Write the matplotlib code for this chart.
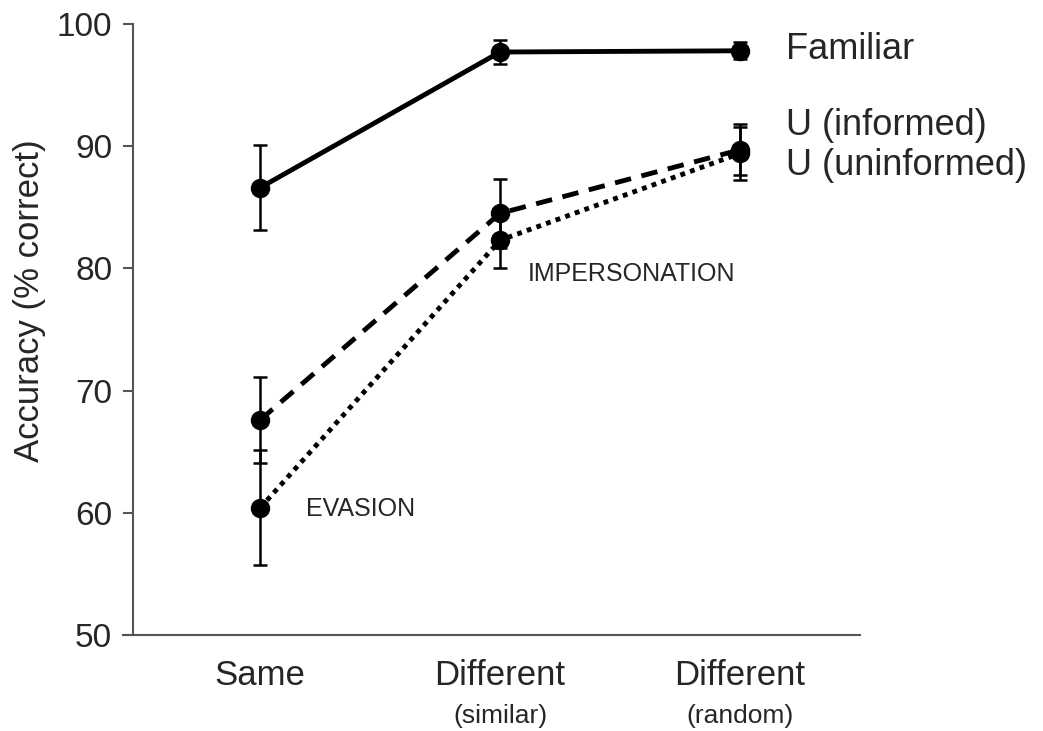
import numpy as np
import matplotlib
matplotlib.use("Agg")
import matplotlib.pyplot as plt

plt.rcParams["font.family"] = ["Liberation Sans", "DejaVu Sans"]

# ── Data ────────────────────────────────────────────────────────────────────
conditions = ["Same", "Different", "Different"]
subtitles  = ["", "(similar)", "(random)"]

familiar      = [86.6, 97.7, 97.8]
familiar_err  = [3.5, 1.0, 0.7]
informed      = [67.6, 84.5, 89.7]
informed_err  = [3.5, 2.8, 2.1]
uninformed    = [60.4, 82.3, 89.4]
uninformed_err = [4.7, 2.3, 2.2]

series_names = ["Familiar", "U (informed)", "U (uninformed)"]
label_y      = [97.9, 91.7, 88.4]

TXT = "#262626"
AX  = "#555555"

x = np.arange(len(conditions))

fig = plt.figure(figsize=(10.43, 7.31), dpi=100)
ax = fig.add_axes([0.1275, 0.1313, 0.697, 0.836])

common = dict(color="black", marker="o", markersize=13, lw=3.5,
              elinewidth=1.8, capsize=5, capthick=1.8, ecolor="black")

ax.errorbar(x, uninformed, yerr=uninformed_err, linestyle=(0, (1, 1.1)), **common)
ax.errorbar(x, informed, yerr=informed_err, linestyle=(0, (3.4, 2.2)), **common)
ax.errorbar(x, familiar, yerr=familiar_err, linestyle="-", **common)

for name, yy in zip(series_names, label_y):
    ax.text(2.19, yy, name, fontsize=26, color=TXT, ha="left", va="center")

ax.text(0.19, 60.3, "EVASION", fontsize=18, color=TXT, ha="left", va="center")
ax.text(1.115, 79.5, "IMPERSONATION", fontsize=18, color=TXT, ha="left", va="center")

ax.set_xlim(-0.53, 2.5)
ax.set_ylim(50, 100)
ax.set_yticks([50, 60, 70, 80, 90, 100])
ax.set_xticks(x)
ax.set_xticklabels(conditions, fontsize=25, color=TXT)
ax.tick_params(axis="x", length=0, pad=17)
ax.tick_params(axis="y", length=7, width=1.5, color=AX, pad=8,
               labelsize=24, labelcolor=TXT)

for xi, sub in zip(x, subtitles):
    if sub:
        ax.text(xi, -0.1326, sub, fontsize=19, color=TXT, ha="center", va="center",
                transform=ax.get_xaxis_transform())

for side in ["top", "right"]:
    ax.spines[side].set_visible(False)
for side in ["left", "bottom"]:
    ax.spines[side].set_color(AX)
    ax.spines[side].set_linewidth(1.5)
ax.spines["bottom"].set_bounds(-0.53 - 0.042, 2.5)

fig.text(30 / 1043, 1 - 301 / 731, "Accuracy (% correct)", rotation=90,
         fontsize=25, color=TXT, ha="center", va="center")

fig.savefig("out.png", dpi=100)
